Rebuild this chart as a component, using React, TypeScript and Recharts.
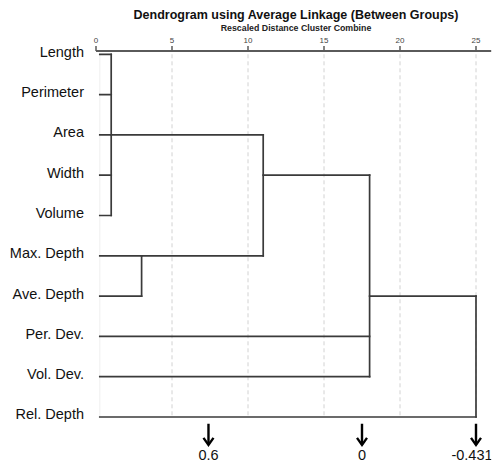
import React from 'react';
import { ComposedChart, Line, Scatter, XAxis, YAxis, ReferenceLine } from 'recharts';

// Variables (leaves of the dendrogram), top to bottom
const leafLabels = [
  'Length',
  'Perimeter',
  'Area',
  'Width',
  'Volume',
  'Max. Depth',
  'Ave. Depth',
  'Per. Dev.',
  'Vol. Dev.',
  'Rel. Depth',
];

// Rescaled distance at which each leaf line starts
const leafStart = 0.25;

// Agglomeration steps: cluster id, rescaled distance, members, row where its stem is drawn
const mergeIds = ['C1', 'C2', 'C3', 'C4', 'C5'];
const mergeHeights = [1, 3, 11, 18, 25];
const mergeMembers = [
  ['Length', 'Perimeter', 'Area', 'Width', 'Volume'],
  ['Max. Depth', 'Ave. Depth'],
  ['C1', 'C2'],
  ['C3', 'Per. Dev.', 'Vol. Dev.'],
  ['C4', 'Rel. Depth'],
];
const mergeStemRows = ['Area', 'Max. Depth', 'Width', 'Ave. Depth', 'Ave. Depth'];

// Distance scale ticks
const distanceTicks = [0, 5, 10, 15, 20, 25];
const gridTicks = [5, 10, 15, 20, 25];

// Markers under the distance scale
const markerDistances = [7.4, 17.5, 25];
const markerLabels = ['0.6', '0', '-0.431'];
const markerRow = 9.17;

const FONT = '"Liberation Sans", Arial, sans-serif';
const LINE = '#3a3a3a';

type Pt = { x: number; y: number };

function buildSegments(): Pt[][] {
  const row = new Map<string, number>();
  const start = new Map<string, number>();
  const parentHeight = new Map<string, number>();
  leafLabels.forEach((l, i) => {
    row.set(l, i);
    start.set(l, leafStart);
  });
  mergeIds.forEach((id, i) => {
    row.set(id, leafLabels.indexOf(mergeStemRows[i]));
    start.set(id, mergeHeights[i]);
    mergeMembers[i].forEach((m) => parentHeight.set(m, mergeHeights[i]));
  });
  const segs: Pt[][] = [];
  // horizontal stems
  [...leafLabels, ...mergeIds].forEach((n) => {
    const h = parentHeight.get(n);
    if (h === undefined) return;
    const r = row.get(n)!;
    segs.push([
      { x: start.get(n)!, y: r },
      { x: h, y: r },
    ]);
  });
  // vertical joins
  mergeIds.forEach((_, i) => {
    const rows = mergeMembers[i].map((m) => row.get(m)!);
    segs.push([
      { x: mergeHeights[i], y: Math.min(...rows) },
      { x: mergeHeights[i], y: Math.max(...rows) },
    ]);
  });
  return segs;
}

const segments = buildSegments();
const markerData = markerDistances.map((x, i) => ({ x, y: markerRow, label: markerLabels[i] }));

const LeafTick = (props: any) => {
  const { x, y, payload } = props;
  return (
    <text x={x} y={y} dy={2.5} textAnchor="end" fontFamily={FONT} fontSize={14.5} fill="#111">
      {leafLabels[payload.value]}
    </text>
  );
};

const DistanceTick = (props: any) => {
  const { x, y, payload } = props;
  return (
    <text x={x} y={y} textAnchor="middle" fontFamily={FONT} fontSize={8} fill="#444">
      {payload.value}
    </text>
  );
};

const MarkerShape = (props: any) => {
  const { cx, cy, payload } = props;
  const textX = Math.min(cx, 472);
  return (
    <g>
      <line x1={cx} y1={cy} x2={cx} y2={cy + 21} stroke="#000" strokeWidth={2.4} />
      <polyline
        points={`${cx - 5},${cy + 14} ${cx},${cy + 21} ${cx + 5},${cy + 14}`}
        fill="none"
        stroke="#000"
        strokeWidth={2.4}
      />
      <text x={textX} y={cy + 36} textAnchor="middle" fontFamily={FONT} fontSize={14.5} fill="#111">
        {payload.label}
      </text>
    </g>
  );
};

export default function App() {
  return (
    <div style={{ position: 'absolute', left: 0, top: 0, width: 496, height: 466, background: '#fff' }}>
      <svg
        width={496}
        height={40}
        style={{ position: 'absolute', left: 0, top: 0, pointerEvents: 'none' }}
      >
        <text x={296} y={19} textAnchor="middle" fontFamily={FONT} fontWeight="bold" fontSize={12.5} fill="#111">
          Dendrogram using Average Linkage (Between Groups)
        </text>
        <text x={296} y={31} textAnchor="middle" fontFamily={FONT} fontWeight="bold" fontSize={8.8} fill="#222">
          Rescaled Distance Cluster Combine
        </text>
      </svg>
      <ComposedChart width={496} height={466} margin={{ top: 0, right: 4.8, bottom: 0, left: 0 }}>
        <XAxis
          type="number"
          dataKey="x"
          orientation="top"
          domain={[0, 26]}
          allowDataOverflow
          ticks={distanceTicks}
          interval={0}
          height={51}
          tickSize={5}
          tickMargin={3}
          axisLine={{ stroke: '#5a5a5a', strokeWidth: 2 }}
          tickLine={{ stroke: '#5a5a5a', strokeWidth: 1.5 }}
          tick={<DistanceTick />}
        />
        <YAxis
          type="number"
          dataKey="y"
          reversed
          domain={[-0.082, 10.216]}
          allowDataOverflow
          ticks={leafLabels.map((_, i) => i)}
          interval={0}
          width={96}
          tickSize={6}
          tickMargin={6}
          axisLine={false}
          tickLine={false}
          tick={<LeafTick />}
        />
        <ReferenceLine
          segment={[
            { x: leafStart, y: 0 },
            { x: leafStart, y: leafLabels.length - 1 },
          ]}
          stroke="#efefef"
          strokeWidth={1}
        />
        {gridTicks.map((t) => (
          <ReferenceLine
            key={`grid-${t}`}
            segment={[
              { x: t, y: 0 },
              { x: t, y: leafLabels.length - 1 },
            ]}
            stroke="#d2d2d2"
            strokeWidth={1}
            strokeDasharray="4 3"
          />
        ))}
        {segments.map((s, i) => (
          <Line
            key={`seg-${i}`}
            data={s}
            dataKey="y"
            type="linear"
            stroke={LINE}
            strokeWidth={1.7}
            strokeLinecap="square"
            dot={false}
            activeDot={false}
            isAnimationActive={false}
          />
        ))}
        <Scatter data={markerData} dataKey="y" shape={<MarkerShape />} isAnimationActive={false} />
      </ComposedChart>
    </div>
  );
}
